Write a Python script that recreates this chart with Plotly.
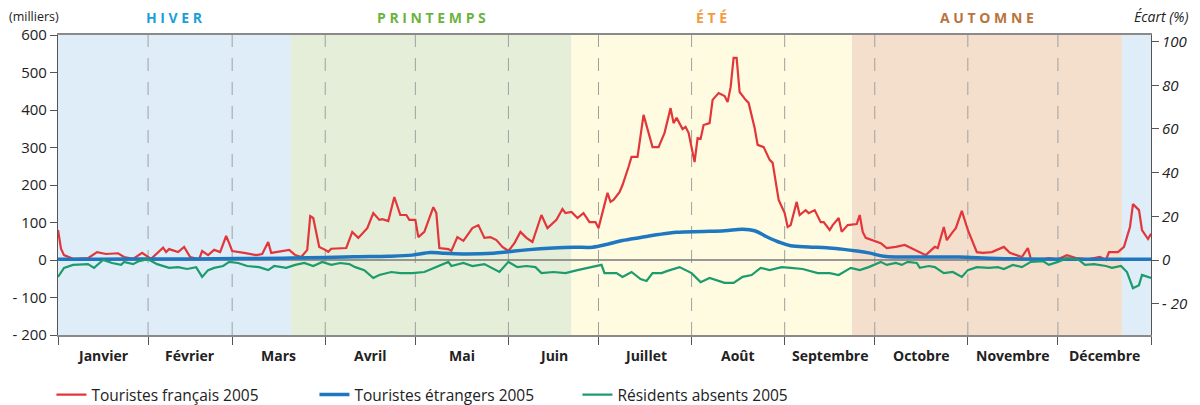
import plotly.graph_objects as go

# ---------------- data ----------------
months = ["Janvier", "Février", "Mars", "Avril", "Mai", "Juin", "Juillet",
          "Août", "Septembre", "Octobre", "Novembre", "Décembre"]
# day index (days since 1 Jan) of the last day of each month
month_end_days = [30, 58, 89, 119, 150, 180, 211, 242, 272, 303, 333, 364]

season_names = ["HIVER", "PRINTEMPS", "ÉTÉ", "AUTOMNE", ""]
season_bounds = [0, 77.6, 171, 264.4, 354.3, 364]
season_fill = ["#deedf8", "#e5eed8", "#fefbe1", "#f3dfcc", "#deedf8"]
season_text = ["#1aa0d8", "#6db33f", "#f39a3c", "#b8743c", "#1aa0d8"]

left_ticks = [600, 500, 400, 300, 200, 100, 0, -100, -200]
left_ticktext = ["600", "500", "400", "300", "200", "100", "0", "- 100", "- 200"]
right_ticks = [100, 80, 60, 40, 20, 0, -20]
right_ticktext = ["100", "80", "60", "40", "20", "0", "- 20"]

fr_days = [0, 1, 2, 5, 10, 13, 16, 20, 22, 25, 28, 31, 35, 36, 37, 40, 42, 44, 47, 48,
           50, 52, 54, 56, 57, 58, 62, 66, 68, 70, 71, 73, 77, 79, 81, 83, 84, 85, 87, 89,
           90, 91, 96, 98, 100, 103, 105, 107, 108, 110, 112, 114, 116, 117, 119, 120, 122,
           125, 126, 127, 130, 131, 133, 135, 138, 140, 142, 144, 146, 148, 150, 152, 154,
           156, 158, 161, 163, 166, 168, 169, 171, 173, 175, 177, 179, 180, 183, 184, 185,
           187, 188, 190, 191, 193, 195, 198, 200, 202, 204, 205, 206, 208, 209, 210, 212,
           213, 214, 215, 217, 218, 220, 222, 223, 224, 225, 226, 227, 229, 230, 232, 233,
           235, 237, 238, 240, 242, 243, 244, 246, 247, 249, 250, 252, 254, 255, 257, 258,
           260, 261, 263, 266, 267, 268, 269, 270, 273, 274, 276, 279, 282, 284, 287, 289,
           292, 293, 295, 296, 298, 299, 301, 303, 306, 308, 311, 313, 315, 317, 319, 321,
           323, 324, 328, 330, 333, 336, 339, 343, 347, 349, 350, 353, 355, 357, 358, 360,
           361, 363, 364]
fr_vals = [80, 30, 13, 3, 5, 21, 16, 18, 8, 3, 19, 3, 33, 21, 29, 21, 35, 8, 2, 24,
           13, 27, 21, 64, 45, 24, 19, 13, 16, 48, 19, 21, 27, 13, 8, 27, 117, 112, 35, 27,
           22, 30, 32, 75, 59, 85, 125, 107, 109, 104, 168, 120, 120, 107, 107, 61, 75,
           141, 125, 32, 29, 24, 61, 51, 85, 93, 59, 61, 53, 35, 24, 45, 75,
           59, 48, 120, 85, 107, 136, 125, 128, 112, 125, 101, 101, 85, 179, 155, 160,
           181, 200, 248, 275, 275, 387, 301, 301, 339, 405, 365, 379, 349, 355, 339, 261,
           325, 323, 360, 365, 427, 445, 437, 421, 461, 539, 539, 448, 427, 419, 352, 307,
           301, 267, 259, 160, 125, 88, 93, 155, 120, 133, 125, 133, 101, 101, 80, 93,
           112, 75, 93, 96, 120, 75, 59, 56, 48, 45, 32, 35, 40, 32, 19, 13,
           35, 32, 88, 53, 75, 85, 131, 80, 21, 19, 21, 29, 35, 19, 13, 8,
           32, 2, 2, 5, 2, 13, 5, 2, 8, 0, 21, 21, 35, 88, 149, 133,
           80, 56, 70]

et_days = [0, 15, 30, 45, 60, 75, 89, 100, 110, 118, 124, 128, 135, 145, 150, 156, 165,
           172, 178, 183, 188, 194, 200, 206, 215, 222, 228, 232, 236, 240, 244, 250, 256,
           261, 266, 270, 275, 280, 300, 310, 320, 340, 364]
et_vals = [2, 2, 3, 3, 4, 5, 7, 9, 10, 13, 20, 18, 16, 18, 22, 27, 32,
           34, 34, 42, 52, 60, 68, 74, 76, 78, 82, 78, 62, 48, 38, 35, 33,
           29, 24, 19, 10, 8, 8, 5, 3, 2, 2]

res_days = [0, 2, 5, 10, 12, 15, 18, 21, 22, 25, 27, 30, 33, 37, 40, 43, 46, 48, 50, 52,
            55, 57, 60, 63, 67, 70, 72, 76, 79, 82, 85, 88, 91, 94, 97, 99, 102, 105, 107,
            111, 114, 118, 122, 126, 130, 131, 135, 138, 142, 147, 150, 153, 156, 159, 161,
            165, 169, 173, 177, 181, 182, 186, 188, 191, 194, 196, 198, 201, 203, 207, 211,
            214, 217, 219, 222, 225, 228, 231, 234, 237, 241, 244, 248, 253, 257, 260, 264,
            267, 270, 274, 276, 279, 281, 283, 286, 287, 290, 292, 295, 298, 301, 303, 306,
            310, 313, 315, 318, 321, 324, 328, 330, 333, 336, 340, 342, 345, 349, 351, 354,
            356, 358, 360, 361, 364]
res_vals = [-45, -21, -13, -11, -21, 0, -8, -13, -5, -11, -3, 2, -11, -21, -19, -24, -19, -45, -27, -21,
            -16, -5, -8, -16, -19, -27, -16, -21, -13, -8, -16, -5, -13, -8, -11, -19, -27, -48, -40,
            -32, -35, -35, -32, -19, -5, -16, -8, -16, -11, -32, -5, -19, -16, -19, -35,
            -32, -35, -27, -21, -13, -35, -35, -45, -32, -51, -56, -35, -35, -29, -19, -35,
            -59, -48, -53, -61, -61, -45, -40, -21, -27, -19, -21, -24, -35, -35, -40, -21,
            -27, -19, -5, -13, -8, -13, -5, -8, -21, -16, -19, -35, -32, -45, -27, -19,
            -21, -19, -24, -13, -19, -5, -3, -13, -5, 5, 0, -13, -11, -16, -21, -16,
            -32, -75, -67, -40, -48]

series_names = ["Touristes français 2005", "Touristes étrangers 2005", "Résidents absents 2005"]
series_colors = ["#e2363a", "#1f77c0", "#1c9b6c"]

# ---------------- figure ----------------
FONT = "Open Sans"
fig = go.Figure()

fig.add_trace(go.Scatter(x=fr_days, y=fr_vals, mode="lines", name=series_names[0],
                         line=dict(color=series_colors[0], width=2.2)))
fig.add_trace(go.Scatter(x=et_days, y=et_vals, mode="lines", name=series_names[1],
                         line=dict(color=series_colors[1], width=3.5, shape="spline")))
fig.add_trace(go.Scatter(x=res_days, y=res_vals, mode="lines", name=series_names[2],
                         line=dict(color=series_colors[2], width=2.2)))
# invisible trace to activate the right axis
fig.add_trace(go.Scatter(x=[month_end_days[0]], y=[0], yaxis="y2", mode="markers",
                         marker=dict(opacity=0), showlegend=False, hoverinfo="skip"))

shapes = []
annotations = []
x0 = season_bounds[0]
x1 = season_bounds[-1]
for i, name in enumerate(season_names):
    shapes.append(dict(type="rect", xref="x", yref="paper",
                       x0=season_bounds[i], x1=season_bounds[i + 1], y0=0, y1=1,
                       fillcolor=season_fill[i], line=dict(width=0), layer="below"))
    if name:
        annotations.append(dict(text="<b>" + " ".join(name) + "</b>", xref="x", yref="paper",
                                x=(season_bounds[i] + season_bounds[i + 1]) / 2, y=1.0,
                                xanchor="center", yanchor="middle",
                                yshift=18, showarrow=False,
                                font=dict(family=FONT, size=14, color=season_text[i])))

for d in month_end_days[:-1]:
    shapes.append(dict(type="line", xref="x", yref="paper", x0=d, x1=d, y0=0, y1=1,
                       line=dict(color="#a0a0a0", width=1, dash="13px,11px"), layer="below"))

# zero line
shapes.append(dict(type="line", xref="paper", yref="y", x0=0, x1=1, y0=0, y1=0,
                   line=dict(color="#777777", width=1.5), layer="below"))

starts = [x0] + month_end_days[:-1]
for m, a, b in zip(months, starts, month_end_days):
    annotations.append(dict(text="<b>" + m + "</b>", xref="x", yref="paper",
                            x=(a + b) / 2, y=0, xanchor="center", yanchor="middle",
                            yshift=-20, showarrow=False,
                            font=dict(family=FONT, size=14, color="#222222")))

annotations.append(dict(text="(milliers)", xref="paper", yref="paper", x=0, y=1,
                        xanchor="left", yanchor="middle",
                        xshift=-51, yshift=19, showarrow=False,
                        font=dict(family=FONT, size=12.5, color="#222222")))
annotations.append(dict(text="<i>Écart (%)</i>", xref="paper", yref="paper", x=1, y=1,
                        xanchor="center", yanchor="middle",
                        xshift=10, yshift=19, showarrow=False,
                        font=dict(family=FONT, size=14, color="#222222")))

fig.update_layout(
    width=1192, height=397,
    margin=dict(l=50, r=49, t=27, b=70, autoexpand=False),
    paper_bgcolor="white", plot_bgcolor="white",
    font=dict(family=FONT, size=14, color="#222222"),
    showlegend=True,
    legend=dict(orientation="h", x=-0.006, y=-0.2, xanchor="left", yanchor="middle",
                font=dict(family=FONT, size=15.5, color="#222222"),
                entrywidth=218, entrywidthmode="pixels", bgcolor="rgba(0,0,0,0)"),
    xaxis=dict(range=[x0, x1], tickmode="array", tickvals=[x0] + month_end_days,
               showticklabels=False, ticks="outside", ticklen=8, tickcolor="#555555",
               showgrid=False, zeroline=False, showline=True, linecolor="#8a8a8a",
               linewidth=1.5, mirror=True, automargin=False),
    yaxis=dict(range=[-200, 600], tickmode="array", tickvals=left_ticks,
               ticktext=left_ticktext, ticks="outside", ticklen=7, tickcolor="#555555",
               showgrid=False, zeroline=False, showline=True, linecolor="#555555",
               linewidth=1.2, automargin=False,
               tickfont=dict(family=FONT, size=15, color="#222222")),
    yaxis2=dict(range=[-34.3, 103], overlaying="y", side="right", tickmode="array",
                tickvals=right_ticks, ticktext=right_ticktext, ticks="outside", ticklen=7,
                tickcolor="#555555", showgrid=False, zeroline=False, showline=True,
                linecolor="#555555", linewidth=1.2, automargin=False,
                tickfont=dict(family=FONT, size=15, color="#222222", style="italic")),
    shapes=shapes, annotations=annotations,
)

fig.write_html("out.html")
